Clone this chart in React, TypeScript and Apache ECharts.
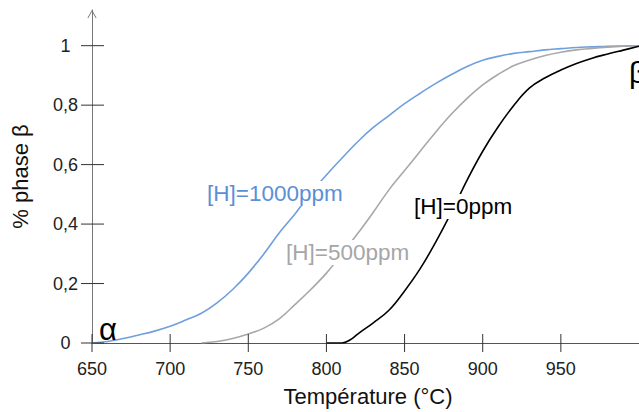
import React, { useEffect, useRef } from "react";
import * as echarts from "echarts";

const xTickValues = [650, 700, 750, 800, 850, 900, 950];
const yTickValues = [0, 0.2, 0.4, 0.6, 0.8, 1];

const tempsBlue = [650, 660, 670, 680, 690, 700, 710, 720, 730, 740, 750, 760, 770, 780, 790, 800, 810, 820, 830, 840, 850, 860, 870, 880, 890, 900, 910, 920, 930, 940, 950, 960, 970, 980, 990, 1000];
const h1000 = [0, 0.005, 0.015, 0.027, 0.04, 0.056, 0.077, 0.1, 0.135, 0.18, 0.235, 0.3, 0.372, 0.435, 0.505, 0.565, 0.622, 0.677, 0.725, 0.765, 0.805, 0.84, 0.873, 0.903, 0.93, 0.951, 0.964, 0.974, 0.98, 0.986, 0.99, 0.994, 0.996, 0.998, 0.999, 1.0];

const tempsGray = [720, 730, 740, 750, 760, 770, 780, 790, 800, 810, 820, 830, 840, 850, 860, 870, 880, 890, 900, 910, 920, 930, 940, 950, 960, 970, 980, 990, 1000];
const h500 = [0, 0.005, 0.015, 0.03, 0.05, 0.082, 0.13, 0.18, 0.235, 0.3, 0.368, 0.44, 0.515, 0.58, 0.645, 0.71, 0.77, 0.823, 0.868, 0.904, 0.933, 0.952, 0.967, 0.978, 0.986, 0.991, 0.995, 0.998, 1.0];

const tempsBlack = [800, 810, 815, 820, 830, 840, 850, 860, 870, 880, 890, 900, 910, 920, 930, 940, 950, 960, 970, 980, 990, 1000];
const h0 = [0, 0, 0.01, 0.03, 0.068, 0.11, 0.175, 0.25, 0.34, 0.44, 0.548, 0.645, 0.728, 0.8, 0.858, 0.892, 0.918, 0.94, 0.958, 0.972, 0.985, 0.998];

const FONT = "Liberation Sans, Arial, sans-serif";

const zip = (xs: number[], ys: number[]) => xs.map((x, i) => [x, ys[i]]);

export default function App() {
  const ref = useRef<HTMLDivElement>(null);
  useEffect(() => {
    if (!ref.current) return;
    const chart = echarts.init(ref.current, undefined, { renderer: "svg" });
    const fmt = (v: number) => String(v).replace(".", ",");
    const option: any = {
      animation: false,
      backgroundColor: "#fff",
      grid: { left: 92, top: 10, width: 552.3, height: 337 },
      xAxis: {
        type: "value",
        min: 650,
        max: 1000,
        name: "Température (°C)",
        nameLocation: "middle",
        nameGap: 42,
        nameTextStyle: { fontFamily: FONT, fontSize: 22, color: "#111", padding: [0, 0, 0, 5] },
        axisLine: { show: true, onZero: true, lineStyle: { color: "#555", width: 1 } },
        axisTick: { show: false },
        splitLine: { show: false },
        axisLabel: {
          customValues: xTickValues,
          margin: 17,
          fontFamily: FONT,
          fontSize: 18,
          color: "#222",
        },
      },
      yAxis: {
        type: "value",
        min: 0,
        max: 1.12,
        name: "% phase β",
        nameLocation: "middle",
        nameGap: 61,
        nameRotate: 90,
        nameTextStyle: { fontFamily: FONT, fontSize: 22, color: "#111" },
        axisLine: {
          show: true,
          symbol: ["none", "path://M0,0 L5,9 L4.2,9.5 L0,2 L-4.2,9.5 L-5,9 Z"],
          symbolSize: [9, 9],
          symbolOffset: [0, -4],
          lineStyle: { color: "#777", width: 1 },
        },
        axisTick: { show: false },
        splitLine: { show: false },
        axisLabel: {
          customValues: yTickValues,
          margin: 26.5,
          align: "center",
          fontFamily: FONT,
          fontSize: 18,
          color: "#222",
          formatter: fmt,
        },
      },
      series: [
        {
          type: "line",
          data: zip(tempsBlue, h1000),
          showSymbol: false,
          smooth: 0.4,
          lineStyle: { color: "#6f9fdc", width: 1.6 },
          z: 3,
        },
        {
          type: "line",
          data: zip(tempsGray, h500),
          showSymbol: false,
          smooth: 0.4,
          lineStyle: { color: "#a8a8a8", width: 1.6 },
          z: 3,
        },
        {
          type: "line",
          data: zip(tempsBlack, h0),
          showSymbol: false,
          smooth: 0.4,
          lineStyle: { color: "#000", width: 1.6 },
          z: 4,
        },
        {
          type: "custom",
          coordinateSystem: "cartesian2d",
          data: xTickValues.map((v) => [v, 0]),
          renderItem: (params: any, api: any) => {
            const p = api.coord([api.value(0), api.value(1)]);
            return {
              type: "line",
              shape: { x1: p[0], y1: p[1] - 9, x2: p[0], y2: p[1] + 9 },
              style: { stroke: "#333", lineWidth: 1 },
            };
          },
          z: 5,
        },
        {
          type: "custom",
          coordinateSystem: "cartesian2d",
          data: yTickValues.map((v) => [650, v]),
          renderItem: (params: any, api: any) => {
            const p = api.coord([api.value(0), api.value(1)]);
            return {
              type: "line",
              shape: { x1: p[0] - 11, y1: p[1], x2: p[0] + 12, y2: p[1] },
              style: { stroke: "#333", lineWidth: 1 },
            };
          },
          z: 5,
        },
      ],
      graphic: [
        {
          type: "text",
          x: 205,
          y: 181,
          z: 100,
          style: {
            text: "[H]=1000ppm",
            fontFamily: FONT,
            fontSize: 22.5,
            fill: "#5b8fd6",
            backgroundColor: "#fff",
            padding: [1, 2],
          },
        },
        {
          type: "text",
          x: 284,
          y: 240,
          z: 100,
          style: {
            text: "[H]=500ppm",
            fontFamily: FONT,
            fontSize: 22.5,
            fill: "#a6a6a6",
            backgroundColor: "#fff",
            padding: [1, 2],
          },
        },
        {
          type: "text",
          x: 412,
          y: 194,
          z: 100,
          style: {
            text: "[H]=0ppm",
            fontFamily: FONT,
            fontSize: 22.5,
            fill: "#000",
            backgroundColor: "#fff",
            padding: [1, 2],
          },
        },
        {
          type: "text",
          x: 99,
          y: 314,
          z: 100,
          style: { text: "α", fontFamily: FONT, fontSize: 31, fill: "#000" },
        },
        {
          type: "text",
          x: 629,
          y: 57,
          z: 100,
          style: { text: "β", fontFamily: FONT, fontSize: 30, fill: "#000" },
        },
      ],
    };
    chart.setOption(option);
    return () => chart.dispose();
  }, []);
  return <div ref={ref} style={{ width: 639, height: 412, position: "fixed", left: 0, top: 0 }} />;
}
